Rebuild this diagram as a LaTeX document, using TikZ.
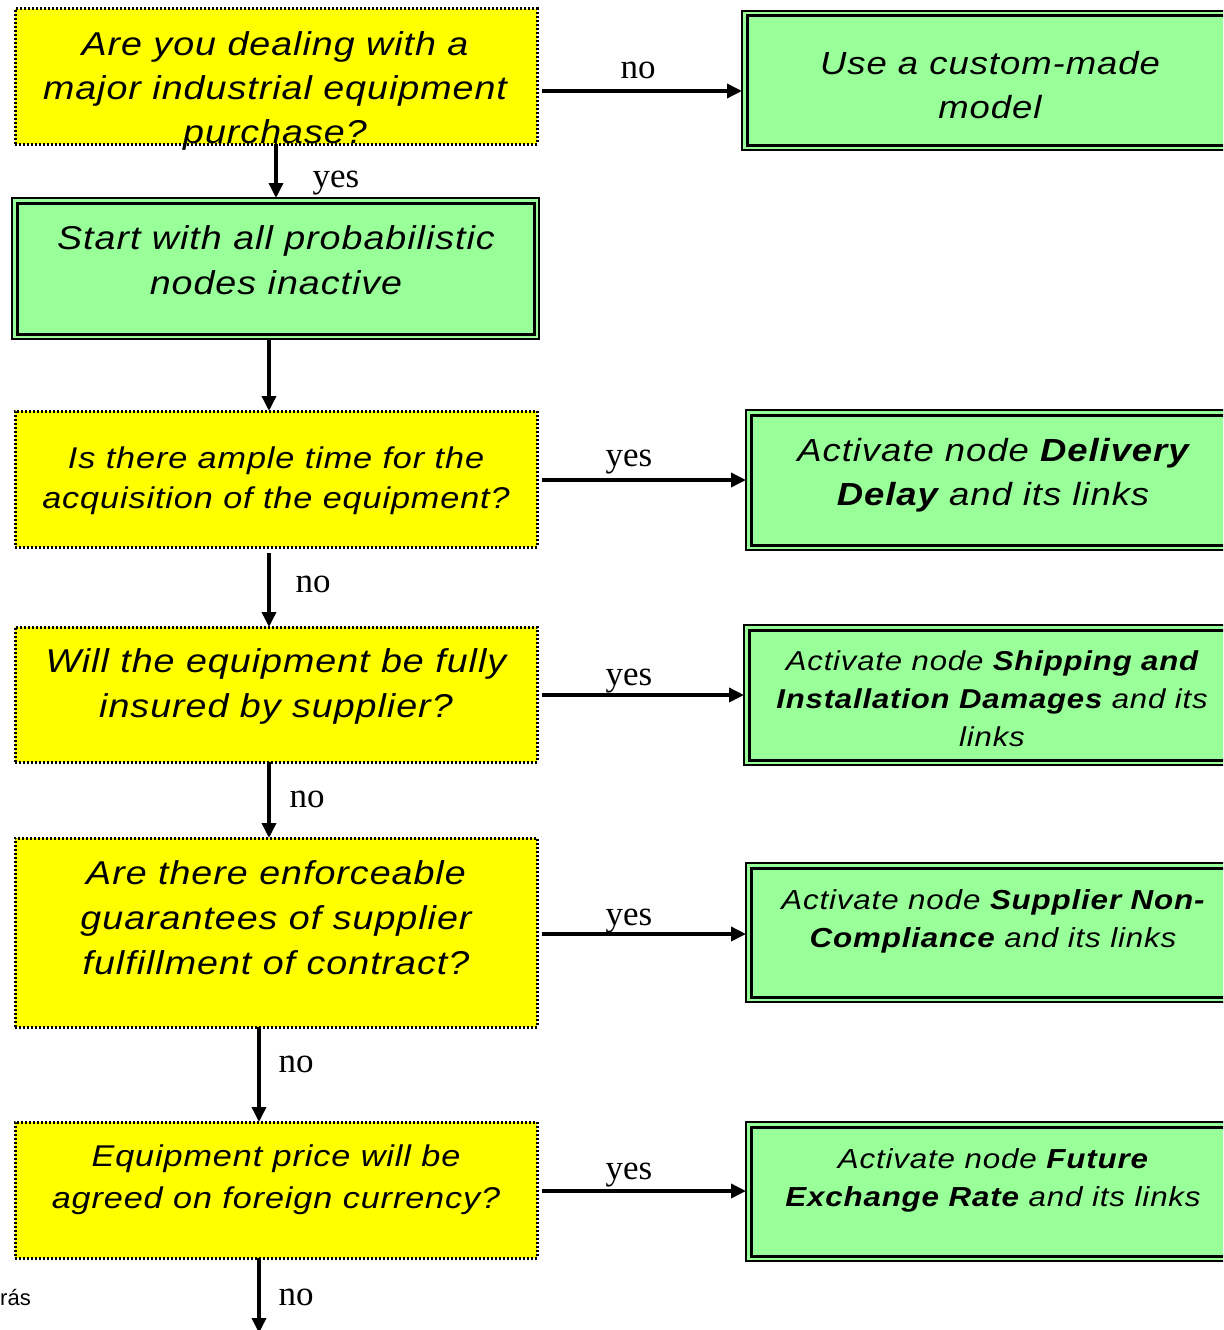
\documentclass[tikz,border=0pt]{standalone}
\usepackage{fontspec}
\setmainfont{Liberation Serif}
\newfontfamily\boxfont[FakeStretch=1.14, LetterSpace=3]{Liberation Sans}
\newfontfamily\notefont{Liberation Sans}
\usetikzlibrary{arrows.meta,calc}
\definecolor{qyellow}{RGB}{255,255,0}
\definecolor{agreen}{RGB}{153,255,153}

\tikzset{
  question/.style={draw=black, fill=qyellow, line width=3pt,
    dash pattern=on 2pt off 2pt, minimum width=522pt,
    inner sep=0pt, outer sep=0pt},
  action/.style={draw=black, fill=agreen, line width=2pt,
    inner sep=0pt, outer sep=0pt},
  innerframe/.style={draw=black, line width=3pt},
  boxtext/.style args={#1/#2}{align=center, inner sep=0pt,
    font=\boxfont\itshape\fontsize{#1}{#2}\selectfont},
  answer/.style={inner sep=0pt, font=\fontsize{35}{40}\selectfont},
  arr/.style={line width=3.5pt, -{Triangle[length=15pt,width=14pt]}},
}

\newcommand{\actionbox}[4]{%
  % #1 name, #2 left, #3 top, #4 bottom
  \node[action, anchor=north west, minimum width={1240-#2}, minimum height={#4-#3}]
    (#1) at (#2,#3) {};
  \draw[innerframe] ($(#1.north west)+(5,5)$) rectangle ($(#1.south east)+(-5,-5)$);
}

\begin{document}
\begin{tikzpicture}[x=1pt, y=-1pt]
\useasboundingbox (0,0) rectangle (1223,1330);
\clip (0,0) rectangle (1223,1330);

% ---- question boxes (left column) ----
\node[question, minimum height=135pt] (q1) at (276,76.5) {};
\node[question, minimum height=136pt] (q2) at (276,479) {};
\node[question, minimum height=135pt] (q3) at (276,694.5) {};
\node[question, minimum height=189pt] (q4) at (276,932.5) {};
\node[question, minimum height=136pt] (q5) at (276,1190) {};

% ---- start box ----
\node[action, minimum width=527pt, minimum height=141pt] (s1) at (275.5,268.5) {};
\draw[innerframe] ($(s1.north west)+(5,5)$) rectangle ($(s1.south east)+(-5,-5)$);

% ---- action boxes (right column) ----
\actionbox{r1}{742}{11}{150}
\actionbox{r2}{746}{410}{550}
\actionbox{r3}{744}{625}{765}
\actionbox{r4}{746}{863}{1002}
\actionbox{r5}{746}{1122}{1261}

% ---- texts ----
\node[boxtext={33/44}] (t1) at (275,90.5)
  {Are you dealing with a\\major industrial equipment\\purchase?};
\node[boxtext={33/45}] (ts) at (276,260.5)
  {Start with all probabilistic\\nodes inactive};
\node[boxtext={30/40}] (t2) at (276,481)
  {Is there ample time for the\\acquisition of the equipment?};
\node[boxtext={33/45}] (t3) at (276,686.5)
  {Will the equipment be fully\\insured by supplier?};
\node[boxtext={33/45}] (t4) at (276,918)
  {Are there enforceable\\guarantees of supplier\\fulfillment of contract?};
\node[boxtext={30/42}] (t5) at (276,1180)
  {Equipment price will be\\agreed on foreign currency?};

\node[boxtext={32/44}] (u1) at (990,85)
  {Use a custom-made\\model};
\node[boxtext={32/44}] (u2) at (993,475)
  {Activate node \textbf{Delivery}\\\textbf{Delay} and its links};
\node[boxtext={27.3/38}] (u3) at (992,699)
  {Activate node \textbf{Shipping and}\\\textbf{Installation Damages} and its\\links};
\node[boxtext={27.5/38}] (u4) at (993,921)
  {Activate node \textbf{Supplier Non-}\\\textbf{Compliance} and its links};
\node[boxtext={27.5/38}] (u5) at (993,1180)
  {Activate node \textbf{Future}\\\textbf{Exchange Rate} and its links};

\node[inner sep=0pt, anchor=east, font=\notefont\fontsize{22}{26}\selectfont] (note) at (31,1297) {rás};

% ---- vertical connectors ----
\draw[arr] (q1.south) -- ([xshift=0.5pt]s1.north);
\draw[arr] ([xshift=-6.5pt]s1.south) -- ([xshift=-7pt]q2.north);
\draw[arr] ($(q2.south)+(-7,6)$) -- ([xshift=-7pt]q3.north);
\draw[arr] ([xshift=-7pt]q3.south) -- ([xshift=-7pt]q4.north);
\draw[arr] ([xshift=-17pt]q4.south) -- ([xshift=-17pt]q5.north);
\coordinate (exit) at (259,1333);
\draw[arr] ([xshift=-17pt]q5.south) -- (exit);

% ---- horizontal connectors ----
\coordinate (h1) at ($(q1.east)+(5,14.5)$);
\coordinate (h2) at ($(q2.east)+(5,1)$);
\coordinate (h3) at ($(q3.east)+(5,0.5)$);
\coordinate (h4) at ($(q4.east)+(5,1.5)$);
\coordinate (h5) at ($(q5.east)+(5,1)$);
\draw[arr] (h1) -- (h1 -| r1.west);
\draw[arr] (h2) -- (h2 -| r2.west);
\draw[arr] (h3) -- (h3 -| r3.west);
\draw[arr] (h4) -- (h4 -| r4.west);
\draw[arr] (h5) -- (h5 -| r5.west);

% ---- answer labels ----
\node[answer] (l1) at (638,70) {no};
\node[answer] (l2) at (336,183) {yes};
\node[answer] (l3) at (629,462) {yes};
\node[answer] (l4) at (313,584) {no};
\node[answer] (l5) at (629,681) {yes};
\node[answer] (l6) at (307,799) {no};
\node[answer] (l7) at (629,921) {yes};
\node[answer] (l8) at (296,1064) {no};
\node[answer] (l9) at (629,1175) {yes};
\node[answer] (l10) at (296,1297) {no};
\end{tikzpicture}
\end{document}
